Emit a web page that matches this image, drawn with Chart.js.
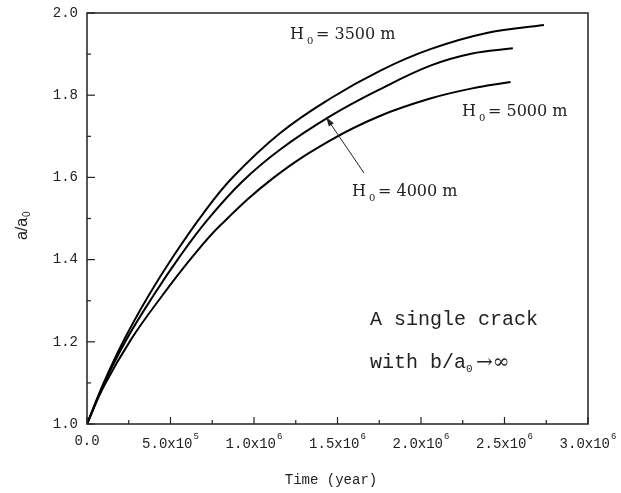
<!DOCTYPE html>
<html>
<head>
<meta charset="utf-8">
<script src="https://cdn.jsdelivr.net/npm/chart.js@4.4.0/dist/chart.umd.min.js"></script>
<style>
  html, body { margin: 0; padding: 0; background: #fff; }
  #wrap { width: 621px; height: 493px; }
</style>
</head>
<body>
<div id="wrap"><canvas id="myChart" width="621" height="493"></canvas></div>
<script>
// time in units of 1e6 years, a/a0
var t3500 = [0, 0.1, 0.22, 0.37, 0.52, 0.69, 0.87, 1.157, 1.457, 1.757, 2.056, 2.4, 2.736];
var a3500 = [1.0, 1.1, 1.203, 1.313, 1.41, 1.509, 1.599, 1.708, 1.792, 1.86, 1.912, 1.952, 1.971];

var t4000 = [0, 0.1, 0.234, 0.40, 0.553, 0.72, 0.93, 1.157, 1.457, 1.757, 2.056, 2.3, 2.55];
var a4000 = [1.0, 1.097, 1.204, 1.314, 1.406, 1.496, 1.59, 1.668, 1.749, 1.815, 1.872, 1.901, 1.914];

var t5000 = [0, 0.104, 0.264, 0.45, 0.632, 0.8, 1.12, 1.457, 1.757, 2.056, 2.3, 2.536];
var a5000 = [1.0, 1.094, 1.206, 1.312, 1.407, 1.484, 1.6, 1.69, 1.75, 1.792, 1.816, 1.832];

var xTicks = [0, 5e5, 1e6, 1.5e6, 2e6, 2.5e6, 3e6];
var xTickMant = ['0.0', '5.0x10', '1.0x10', '1.5x10', '2.0x10', '2.5x10', '3.0x10'];
var xTickExp = ['', '5', '6', '6', '6', '6', '6'];
var yTicks = [1.0, 1.2, 1.4, 1.6, 1.8, 2.0];

function pts(ts, as) {
    return ts.map(function (t, i) { return { x: t * 1e6, y: as[i] }; });
}

var MONO = '"Liberation Mono", "DejaVu Sans Mono", monospace';
var SERIF = '"DejaVu Serif", "Liberation Serif", serif';
var SANS = '"Liberation Sans", Arial, sans-serif';

// draws frame, inward ticks, labels and notes
const decor = {
    id: 'decor',
    afterDraw: function (chart) {
        var c = chart.ctx, a = chart.chartArea;
        var xs = chart.scales.x, ys = chart.scales.y;
        c.save();
        c.strokeStyle = '#222';
        c.lineWidth = 1.5;
        c.strokeRect(a.left, a.top, a.right - a.left, a.bottom - a.top);

        // x ticks (major + minor), pointing inward
        c.lineWidth = 1.2;
        for (var v = 0; v <= 3e6; v += 2.5e5) {
            var px = xs.getPixelForValue(v);
            var len = (v % 5e5 === 0) ? 7 : 4;
            c.beginPath(); c.moveTo(px, a.bottom); c.lineTo(px, a.bottom - len); c.stroke();
        }
        for (var w = 1.0; w <= 2.0001; w += 0.1) {
            var py = ys.getPixelForValue(w);
            var major = Math.round(w * 10) % 2 === 0;
            c.beginPath(); c.moveTo(a.left, py); c.lineTo(a.left + (major ? 8 : 4), py); c.stroke();
        }

        c.fillStyle = '#222';
        // y tick labels
        c.font = '14px ' + MONO;
        c.textAlign = 'right';
        c.textBaseline = 'middle';
        yTicks.forEach(function (v) {
            c.fillText(v.toFixed(1), a.left - 9, ys.getPixelForValue(v));
        });

        // x tick labels with superscript exponent
        xTicks.forEach(function (v, i) {
            var px = xs.getPixelForValue(v);
            c.font = '14px ' + MONO;
            var mw = c.measureText(xTickMant[i]).width;
            c.font = '9px ' + MONO;
            var ew = xTickExp[i] ? c.measureText(xTickExp[i]).width + 1 : 0;
            var x0 = px - (mw + ew) / 2;
            c.textAlign = 'left';
            c.textBaseline = 'alphabetic';
            c.font = '14px ' + MONO;
            c.fillText(xTickMant[i], x0, a.bottom + (i === 0 ? 21 : 24));
            if (xTickExp[i]) {
                c.font = '9px ' + MONO;
                c.fillText(xTickExp[i], x0 + mw + 1, a.bottom + 15);
            }
        });

        // axis titles
        c.font = '14px ' + MONO;
        c.textAlign = 'center';
        c.fillText('Time (year)', 331, 484);

        c.save();
        c.translate(27, 225);
        c.rotate(-Math.PI / 2);
        c.font = '16px ' + SANS;
        c.textAlign = 'left';
        var tw = c.measureText('a/a').width;
        c.fillText('a/a', -tw / 2 - 4, 0);
        c.font = '10px ' + SANS;
        c.fillText('0', tw / 2 - 3, 3);
        c.restore();

        // curve labels
        function hlabel(txt, x, y) {
            c.textAlign = 'left';
            c.font = '16px ' + SERIF;
            c.fillText('H', x, y);
            var hw = c.measureText('H').width;
            c.font = '10px ' + SERIF;
            c.fillText('0', x + hw + 3, y + 5);
            c.font = '16px ' + SERIF;
            c.fillText(txt, x + hw + 12, y);
        }
        hlabel('= 3500 m', 290, 39);
        hlabel('= 5000 m', 462, 116);
        hlabel('= 4000 m', 352, 196);

        // arrow to the 4000 m curve
        c.lineWidth = 1;
        c.beginPath(); c.moveTo(364, 173); c.lineTo(328, 120); c.stroke();
        var ang = Math.atan2(120 - 173, 328 - 364);
        c.beginPath();
        c.moveTo(326, 117);
        c.lineTo(326 - 10 * Math.cos(ang - 0.3), 117 - 10 * Math.sin(ang - 0.3));
        c.lineTo(326 - 10 * Math.cos(ang + 0.3), 117 - 10 * Math.sin(ang + 0.3));
        c.closePath(); c.fill();

        // note
        c.font = '20px ' + MONO;
        c.textAlign = 'left';
        c.fillText('A single crack', 370, 325);
        c.fillText('with b/a', 370, 368);
        var nw = c.measureText('with b/a').width;
        c.font = '11px ' + MONO;
        c.fillText('0', 370 + nw, 372);
        c.font = '20px ' + SERIF;
        c.fillText('\u2192\u221E', 370 + nw + 10, 368);
        c.restore();
    }
};

function ds(label, ts, as) {
    return {
        label: label,
        data: pts(ts, as),
        borderColor: '#000',
        borderWidth: 2,
        pointRadius: 0,
        fill: false,
        tension: 0.4
    };
}

const chart = new Chart(document.getElementById('myChart'), {
    type: 'line',
    data: {
        datasets: [
            ds('H0 = 3500 m', t3500, a3500),
            ds('H0 = 4000 m', t4000, a4000),
            ds('H0 = 5000 m', t5000, a5000)
        ]
    },
    options: {
        responsive: false,
        animation: false,
        layout: { padding: { left: 87, top: 13, right: 33, bottom: 69 } },
        plugins: { legend: { display: false }, tooltip: { enabled: false } },
        scales: {
            x: {
                type: 'linear', min: 0, max: 3e6,
                grid: { display: false, drawTicks: false },
                border: { display: false },
                ticks: { display: false }
            },
            y: {
                min: 1.0, max: 2.0,
                grid: { display: false, drawTicks: false },
                border: { display: false },
                ticks: { display: false }
            }
        }
    },
    plugins: [decor]
});
</script>
</body>
</html>
